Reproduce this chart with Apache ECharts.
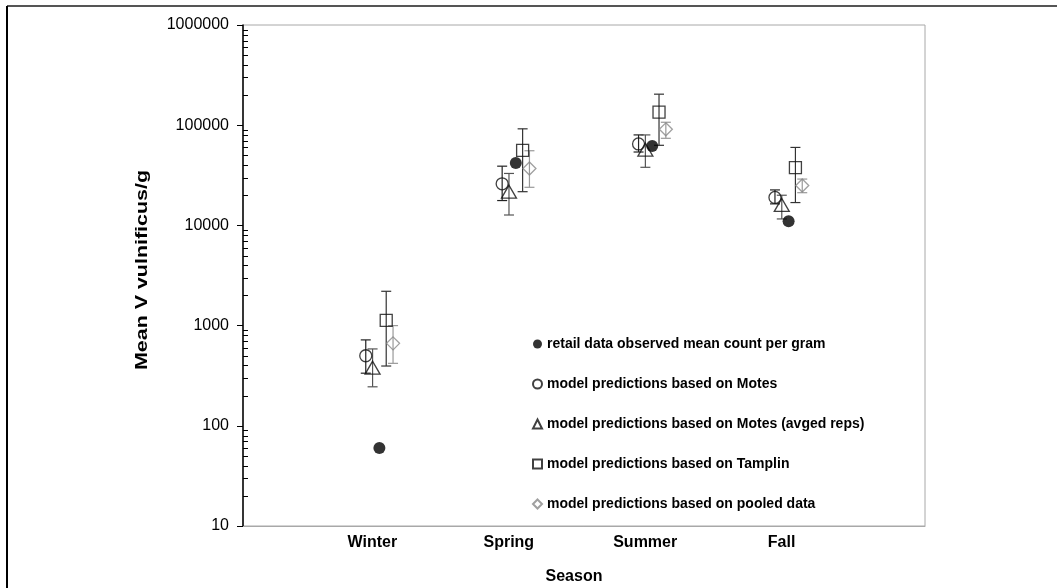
<!DOCTYPE html>
<html>
<head>
<meta charset="utf-8">
<script src="https://cdn.jsdelivr.net/npm/echarts@6/dist/echarts.min.js"></script>
<style>
  html, body { margin: 0; padding: 0; background: #fff; }
  #chart { width: 1057px; height: 588px; }
</style>
</head>
<body>
<div id="chart"></div>
<script>
// Seasons along the x axis (placed at 1..4 on a 0..5 value axis)
const seasons = ['Winter', 'Spring', 'Summer', 'Fall'];

// Retail data: observed mean count per gram
const retailMean = [60, 42000, 62000, 11000];

// Model predictions based on Motes
const motesMean = [500, 26000, 65000, 19000];
const motesLow  = [335, 17700, 54000, 16400];
const motesHigh = [720, 39000, 80000, 22600];

// Model predictions based on Motes (averaged replicates)
const motesAvgMean = [380, 21700, 57000, 16000];
const motesAvgLow  = [245, 12700, 38000, 11600];
const motesAvgHigh = [585, 33000, 80000, 20000];

// Model predictions based on Tamplin
const tamplinMean = [1130, 56000, 135000, 37700];
const tamplinLow  = [395, 21700, 63000, 16900];
const tamplinHigh = [2200, 92000, 204000, 60000];

// Model predictions based on pooled data
const pooledMean = [665, 37000, 91000, 25000];
const pooledLow  = [420, 24000, 74000, 21200];
const pooledHigh = [1000, 55600, 107000, 29000];

// Y axis decades and minor tick values (2..9 within each decade)
const yTickValues = [10, 100, 1000, 10000, 100000, 1000000];
const yMinorValues = [];
for (let d = 10; d < 1000000; d *= 10) {
  for (let k = 2; k <= 9; k++) yMinorValues.push(d * k);
}

const FONT = '"Liberation Sans", Arial, sans-serif';

function points(means, shift) {
  return means.map((v, i) => [i + 1 + shift, v]);
}
function bars(lows, highs, shift) {
  return lows.map((lo, i) => [i + 1 + shift, lo, highs[i]]);
}

function errorSeries(name, data, color) {
  return {
    type: 'custom',
    name: name + ' range',
    data: data,
    silent: true,
    z: 2,
    encode: { x: 0, y: [1, 2] },
    renderItem: function (params, api) {
      const x = api.value(0);
      const lo = api.coord([x, api.value(1)]);
      const hi = api.coord([x, api.value(2)]);
      const cap = 5;
      const style = { stroke: color, lineWidth: 1.2 };
      return {
        type: 'group',
        children: [
          { type: 'line', shape: { x1: lo[0], y1: lo[1], x2: hi[0], y2: hi[1] }, style: style },
          { type: 'line', shape: { x1: lo[0] - cap, y1: lo[1], x2: lo[0] + cap, y2: lo[1] }, style: style },
          { type: 'line', shape: { x1: hi[0] - cap, y1: hi[1], x2: hi[0] + cap, y2: hi[1] }, style: style }
        ]
      };
    }
  };
}

// Minor ticks on the inner side of the log axis
const minorTickSeries = {
  type: 'custom',
  name: 'minor ticks',
  data: yMinorValues.map(v => [0, v]),
  silent: true,
  z: 5,
  renderItem: function (params, api) {
    const p = api.coord([0, api.value(1)]);
    return {
      type: 'line',
      shape: { x1: p[0], y1: Math.round(p[1]) + 0.5, x2: p[0] + 5, y2: Math.round(p[1]) + 0.5 },
      style: { stroke: '#000', lineWidth: 1 }
    };
  }
};

const chart = echarts.init(document.getElementById('chart'), null, { renderer: 'canvas' });

const option = {
  backgroundColor: '#fff',
  animation: false,
  grid: {
    left: 243, top: 25, right: 132, bottom: 62,
    show: true, borderColor: '#a8a8a8', borderWidth: 1, backgroundColor: '#fff'
  },
  legend: {
    orient: 'vertical',
    left: 527, top: 332,
    itemWidth: 9, itemHeight: 9,
    itemGap: 26,
    textStyle: { fontFamily: FONT, fontSize: 14, fontWeight: 'bold', color: '#000' },
    data: [
      'retail data observed mean count per gram',
      'model predictions based on Motes',
      'model predictions based on Motes (avged reps)',
      'model predictions based on Tamplin',
      'model predictions based on pooled data'
    ]
  },
  xAxis: {
    type: 'value', min: 0, max: 5,
    splitLine: { show: false },
    axisLine: { show: true, lineStyle: { color: '#a8a8a8', width: 1 } },
    axisTick: { show: false },
    axisLabel: {
      customValues: [1, 2, 3, 4],
      formatter: v => seasons[Math.round(v) - 1] || '',
      fontFamily: FONT, fontSize: 16, fontWeight: 'bold', color: '#000',
      margin: 9, padding: [0, 14, 0, 0]
    }
  },
  yAxis: {
    type: 'log', logBase: 10, min: 10, max: 1000000,
    splitLine: { show: false },
    axisLine: { show: true, lineStyle: { color: '#000', width: 1.5 } },
    axisTick: { show: true, inside: false, length: 6, lineStyle: { color: '#000' } },
    axisLabel: {
      customValues: yTickValues,
      formatter: v => String(Math.round(v)),
      fontFamily: FONT, fontSize: 16, color: '#000', margin: 14
    }
  },
  series: [
    minorTickSeries,
    errorSeries('motes', bars(motesLow, motesHigh, -0.1), '#222'),
    errorSeries('motesAvg', bars(motesAvgLow, motesAvgHigh, -0.05), '#555'),
    errorSeries('tamplin', bars(tamplinLow, tamplinHigh, 0.05), '#333'),
    errorSeries('pooled', bars(pooledLow, pooledHigh, 0.1), '#999'),
    {
      type: 'scatter', name: 'model predictions based on Motes',
      data: points(motesMean, -0.1), symbol: 'circle', symbolSize: 12, z: 3,
      itemStyle: { color: 'rgba(255,255,255,0)', borderColor: '#111', borderWidth: 1.3 }
    },
    {
      type: 'scatter', name: 'model predictions based on Motes (avged reps)',
      data: points(motesAvgMean, -0.05), symbol: 'triangle', symbolSize: [15, 13], z: 3,
      itemStyle: { color: 'rgba(255,255,255,0)', borderColor: '#111', borderWidth: 1.3 }
    },
    {
      type: 'scatter', name: 'retail data observed mean count per gram',
      data: points(retailMean, 0), symbol: 'circle', symbolSize: 12, z: 4,
      itemStyle: { color: '#000' }
    },
    {
      type: 'scatter', name: 'model predictions based on Tamplin',
      data: points(tamplinMean, 0.05), symbol: 'rect', symbolSize: 12, z: 3,
      itemStyle: { color: 'rgba(255,255,255,0)', borderColor: '#111', borderWidth: 1.3 }
    },
    {
      type: 'scatter', name: 'model predictions based on pooled data',
      data: points(pooledMean, 0.1), symbol: 'diamond', symbolSize: 13, z: 3,
      itemStyle: { color: 'rgba(255,255,255,0)', borderColor: '#888', borderWidth: 1.3 }
    }
  ],
  graphic: [
    { type: 'line', shape: { x1: 7, y1: 6, x2: 1057, y2: 6 }, style: { stroke: '#555', lineWidth: 2 } },
    { type: 'line', shape: { x1: 7, y1: 6, x2: 7, y2: 588 }, style: { stroke: '#000', lineWidth: 2 } },
    {
      type: 'text', x: 143, y: 270, rotation: Math.PI / 2, scaleX: 1.34,
      style: {
        text: 'Mean V vulnificus/g', fontFamily: FONT, fontSize: 16, fontWeight: 'bold',
        fill: '#000', align: 'center', verticalAlign: 'middle'
      }
    },
    {
      type: 'text', x: 574, y: 577,
      style: {
        text: 'Season', fontFamily: FONT, fontSize: 16, fontWeight: 'bold',
        fill: '#000', align: 'center', verticalAlign: 'middle'
      }
    }
  ]
};

chart.setOption(option);
</script>
</body>
</html>
